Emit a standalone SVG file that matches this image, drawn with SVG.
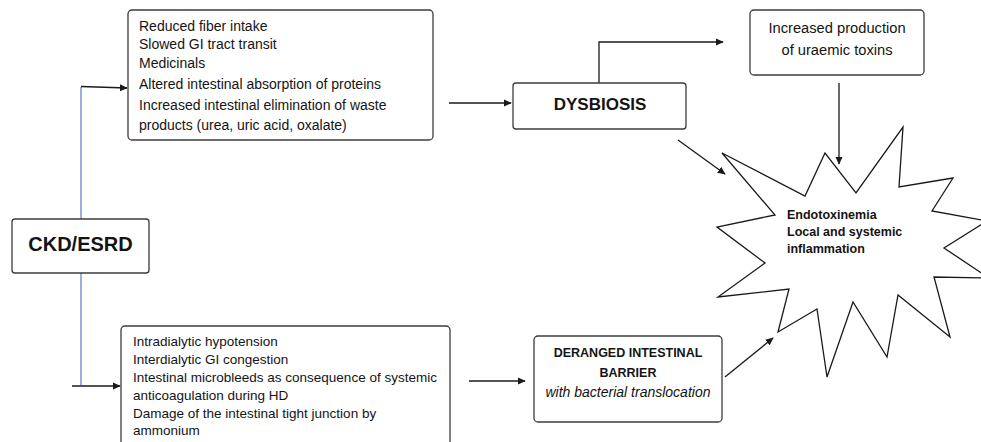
<svg xmlns="http://www.w3.org/2000/svg" width="981" height="442" viewBox="0 0 981 442">
<style>
.box{fill:#fff;stroke:#3c3c3c;stroke-width:1.3}
.t{font-family:"Liberation Sans",Arial,sans-serif;fill:#141414}
.body{font-size:14px}
.body2{font-size:13.5px}
.b{font-weight:bold}
.c{text-anchor:middle}
.ln{fill:none;stroke:#1a1a1a;stroke-width:1.3}
.blue{fill:none;stroke:#5a78c8;stroke-width:1.2}
</style>
<defs>
<marker id="ah" viewBox="0 0 10 10" refX="9" refY="5" markerWidth="8" markerHeight="8" markerUnits="userSpaceOnUse" orient="auto">
<path d="M0,0.5 L10,5 L0,9.5 Z" fill="#1a1a1a"/>
</marker>
</defs>
<rect width="981" height="442" fill="#fff"/>

<g id="connectors">
<path class="blue" d="M81,219 V87"/>
<path class="ln" d="M81,86.5 L127,88" marker-end="url(#ah)"/>
<path class="blue" d="M81,273 V385"/>
<path class="ln" d="M72,386 H120" marker-end="url(#ah)"/>
<path class="ln" d="M449,103 H511" marker-end="url(#ah)"/>
<path class="ln" d="M599,83 V42 H723" marker-end="url(#ah)"/>
<path class="ln" d="M839,83 V164" marker-end="url(#ah)"/>
<path class="ln" d="M678,140 L725,174" marker-end="url(#ah)"/>
<path class="ln" d="M469,381 H525" marker-end="url(#ah)"/>
<path class="ln" d="M725,377 L773,338" marker-end="url(#ah)"/>
</g>

<g id="ckd">
<rect class="box" x="12" y="219" width="137" height="54" rx="3"/>
<text class="t b c" x="80.5" y="251" font-size="20">CKD/ESRD</text>
</g>

<g id="factors-top">
<rect class="box" x="128" y="10" width="305" height="130" rx="4"/>
<text class="t body" x="139" y="31">Reduced fiber intake</text>
<text class="t body" x="139" y="49">Slowed GI tract transit</text>
<text class="t body" x="139" y="68">Medicinals</text>
<text class="t body" x="139" y="89">Altered intestinal absorption of proteins</text>
<text class="t body" x="139" y="110">Increased intestinal elimination of waste</text>
<text class="t body" x="139" y="130">products (urea, uric acid, oxalate)</text>
</g>

<g id="dysbiosis">
<rect class="box" x="513" y="83" width="173" height="46" rx="3"/>
<text class="t b c" x="600" y="110" font-size="17">DYSBIOSIS</text>
</g>

<g id="uraemic">
<rect class="box" x="750" y="10" width="174" height="65" rx="4"/>
<text class="t c" x="837" y="33" font-size="14.7">Increased production</text>
<text class="t c" x="837" y="55" font-size="14.7">of uraemic toxins</text>
</g>

<g id="factors-bottom">
<rect class="box" x="121" y="326" width="329" height="130" rx="4"/>
<text class="t body2" x="133" y="346">Intradialytic hypotension</text>
<text class="t body2" x="133" y="364">Interdialytic GI congestion</text>
<text class="t body2" x="133" y="382">Intestinal microbleeds as consequence of systemic</text>
<text class="t body2" x="133" y="400">anticoagulation during HD</text>
<text class="t body2" x="133" y="418">Damage of the intestinal tight junction by</text>
<text class="t body2" x="133" y="435">ammonium</text>
</g>

<g id="barrier">
<rect class="box" x="534" y="336" width="188" height="86" rx="4"/>
<text class="t b c" x="628" y="357" font-size="12.5">DERANGED INTESTINAL</text>
<text class="t b c" x="628" y="377" font-size="12.5">BARRIER</text>
<text class="t c" x="628" y="397" font-size="14" font-style="italic">with bacterial translocation</text>
</g>

<g id="inflammation">
<polygon fill="#fff" stroke="#1a1a1a" stroke-width="1.3" stroke-linejoin="miter" points="722,153 805,196 825,153 856,193 903,127 899,187 953,178 932,211 987,221 944,248 989,278 934,277 950,337 898,295 887,357 853,302 827,377 817,309 778,332 789,289 718,297 765,263 717,227 775,215"/>
<text class="t b" x="787" y="219" font-size="12.5">Endotoxinemia</text>
<text class="t b" x="787" y="236" font-size="12.5">Local and systemic</text>
<text class="t b" x="787" y="253" font-size="12.5">inflammation</text>
</g>
</svg>
